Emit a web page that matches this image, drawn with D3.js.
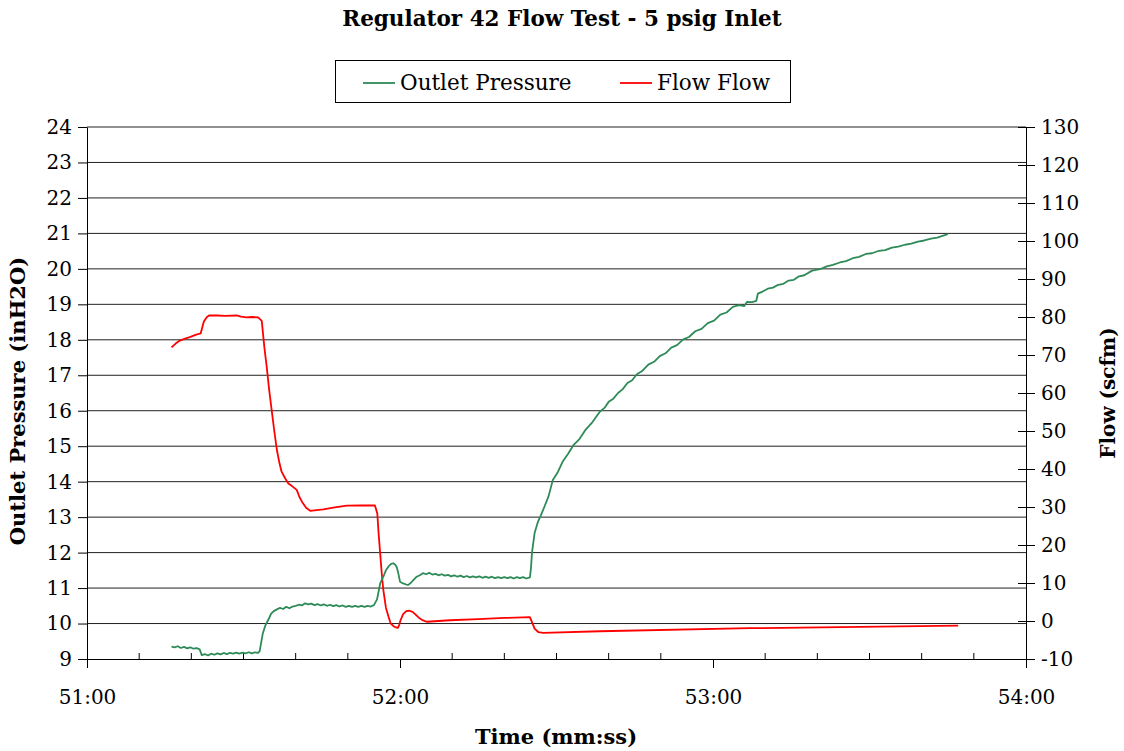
<!DOCTYPE html>
<html><head><meta charset="utf-8">
<script src="https://cdn.jsdelivr.net/npm/d3@7"></script>
<style>
html,body{margin:0;padding:0;background:#fff;}
svg{display:block;font-family:"DejaVu Serif",serif;}
</style></head>
<body><svg id="c" width="1124" height="751"></svg>
<script>
// ---- data (time in seconds after 51:00) ----
const xTickValues = [0, 60, 120, 180];
const xTickLabels = ["51:00", "52:00", "53:00", "54:00"];
const leftTicks = [9,10,11,12,13,14,15,16,17,18,19,20,21,22,23,24];
const rightTicks = [-10,0,10,20,30,40,50,60,70,80,90,100,110,120,130];

const pressureTime = [16.2,16.8,17.4,18.0,18.6,19.2,19.8,20.4,21.0,21.6,22.0,22.6,23.2,23.8,24.4,25.0,25.6,26.2,26.8,27.4,28.0,28.6,29.2,29.8,30.4,31.0,31.6,32.2,32.8,33.1,33.7,34.2,34.8,35.3,35.8,36.4,37.0,37.6,38.2,38.8,39.4,40.0,40.6,41.2,41.8,42.4,43.0,43.6,44.2,44.8,45.4,46.0,46.6,47.2,47.8,48.4,49.0,49.6,50.2,50.8,51.4,52.0,52.6,53.2,53.8,54.4,55.0,55.6,56.2,56.8,57.3,57.8,58.3,58.7,59.1,59.4,59.7,60.0,60.6,61.2,61.6,62.1,62.6,63.2,63.8,64.4,65.0,65.6,66.2,66.8,67.4,68.0,68.6,69.2,69.8,70.4,71.0,71.6,72.2,72.8,73.4,74.0,74.6,75.2,75.8,76.4,77.0,77.6,78.2,78.8,79.4,80.0,80.6,81.2,81.8,82.4,83.0,83.6,84.2,84.9,85.1,85.3,85.8,86.4,87.0,87.7,88.5,89.3,90.3,91.2,92.2,93.2,94.4,95.6,96.9,98.3,99.2,100.0,100.9,101.8,102.7,103.6,104.5,105.4,106.5,107.6,108.7,109.8,110.9,112.0,113.1,114.3,115.4,116.6,117.8,119.0,120.2,121.4,122.6,123.8,125.0,126.0,126.5,127.5,128.3,128.6,129.5,130.5,131.5,132.5,133.5,134.5,135.5,136.5,137.5,139.0,140.5,141.8,143.0,144.3,145.5,146.8,148.0,149.3,150.5,151.8,153.0,154.3,155.5,156.8,158.0,159.3,160.5,161.8,163.0,164.0,165.0,166.0,167.0];
const pressureValues = [9.35,9.33,9.36,9.31,9.34,9.30,9.33,9.29,9.31,9.27,9.11,9.14,9.10,9.15,9.12,9.16,9.13,9.17,9.14,9.17,9.15,9.18,9.15,9.18,9.16,9.19,9.16,9.19,9.17,9.22,9.72,9.95,10.12,10.28,10.35,10.40,10.44,10.41,10.47,10.43,10.48,10.50,10.53,10.51,10.57,10.54,10.56,10.52,10.55,10.51,10.54,10.50,10.53,10.49,10.52,10.48,10.51,10.47,10.50,10.47,10.50,10.47,10.50,10.47,10.50,10.48,10.52,10.68,11.13,11.32,11.50,11.61,11.68,11.70,11.66,11.58,11.40,11.18,11.13,11.10,11.09,11.15,11.23,11.32,11.36,11.42,11.39,11.43,11.38,11.40,11.36,11.39,11.35,11.37,11.33,11.36,11.32,11.35,11.31,11.34,11.30,11.33,11.30,11.33,11.29,11.32,11.29,11.32,11.28,11.31,11.28,11.31,11.28,11.31,11.27,11.31,11.28,11.31,11.27,11.30,11.55,12.00,12.55,12.85,13.05,13.30,13.60,14.05,14.28,14.57,14.78,15.02,15.20,15.47,15.68,15.97,16.08,16.25,16.34,16.50,16.61,16.78,16.86,17.03,17.13,17.30,17.38,17.54,17.62,17.78,17.85,18.01,18.08,18.24,18.31,18.47,18.54,18.71,18.77,18.93,18.98,18.95,19.07,19.06,19.10,19.30,19.36,19.44,19.47,19.55,19.58,19.67,19.69,19.79,19.82,19.95,19.99,20.07,20.11,20.18,20.22,20.30,20.34,20.42,20.44,20.51,20.53,20.60,20.63,20.68,20.71,20.77,20.80,20.85,20.88,20.93,20.98];

const flowTime = [16.2,17.0,17.8,18.8,19.7,20.8,21.8,22.4,23.0,23.4,25.0,26.5,28.7,29.5,30.6,31.5,32.8,33.5,34.0,34.45,34.9,35.4,35.9,36.4,36.9,37.3,38.0,38.6,39.3,40.2,40.7,41.2,42.0,42.8,44.0,45.3,47.5,49.8,52.5,55.2,55.65,55.9,56.2,56.5,56.8,57.3,57.8,58.2,58.7,59.2,59.6,59.85,60.1,60.6,61.2,61.8,62.4,62.9,63.5,64.2,65.1,69.6,75.0,80.0,84.9,85.3,85.8,86.5,87.5,98.3,127.1,167.0];
const flowValues = [72.0,73.0,73.8,74.3,74.7,75.3,75.7,78.8,80.0,80.4,80.4,80.3,80.4,80.1,79.9,80.0,79.9,79.0,72.0,66.9,61.0,55.5,50.0,45.0,41.5,39.3,37.5,36.2,35.5,34.5,32.7,31.4,29.8,29.0,29.2,29.4,29.9,30.35,30.4,30.4,28.3,23.0,17.8,12.5,8.2,3.5,1.1,-0.6,-1.3,-1.7,-1.8,-1.0,0.2,1.8,2.6,2.7,2.4,1.8,1.0,0.3,-0.2,0.2,0.5,0.8,1.0,-0.3,-2.0,-2.9,-3.1,-2.7,-1.9,-1.2];

const seriesNames = ["Outlet Pressure", "Flow Flow"];
const seriesColors = ["#2e8b57", "#ff0000"];

// ---- layout ----
const m = {left: 87, right: 1026, top: 127, bottom: 659};
const svg = d3.select("#c");

const x = d3.scaleLinear().domain([0, 180]).range([m.left, m.right]);
const yL = d3.scaleLinear().domain([9, 24]).range([m.bottom, m.top]);
const yR = d3.scaleLinear().domain([-10, 130]).range([m.bottom, m.top]);

// title
svg.append("text").attr("x", 562).attr("y", 26).attr("text-anchor", "middle")
  .attr("font-weight", "bold").attr("font-size", 21.5).text("Regulator 42 Flow Test - 5 psig Inlet");

// gridlines
svg.append("g").selectAll("line").data(leftTicks.filter(d => d > 9)).join("line")
  .attr("x1", m.left).attr("x2", m.right)
  .attr("y1", d => yL(d)).attr("y2", d => yL(d))
  .attr("stroke", "#222").attr("stroke-width", 1);

// left axis
const gL = svg.append("g").attr("transform", `translate(${m.left},0)`)
  .call(d3.axisLeft(yL).tickValues(leftTicks).tickSize(9).tickSizeOuter(0).tickPadding(6));
// right axis
const gR = svg.append("g").attr("transform", `translate(${m.right},0)`)
  .call(d3.axisRight(yR).tickValues(rightTicks).tickSize(9).tickSizeOuter(0).tickPadding(6)
    .tickFormat(d => String(d)));
gR.selectAll(".tick line").attr("x1", -8);
// bottom axis major ticks
const gB = svg.append("g").attr("transform", `translate(0,${m.bottom})`)
  .call(d3.axisBottom(x).tickValues(xTickValues).tickSize(9).tickSizeOuter(0).tickPadding(22)
    .tickFormat((d, i) => xTickLabels[i]));
// minor ticks (inward)
const minor = d3.range(0, 181, 10).filter(d => d % 60 !== 0);
svg.append("g").selectAll("line").data(minor).join("line")
  .attr("x1", d => x(d)).attr("x2", d => x(d))
  .attr("y1", m.bottom).attr("y2", m.bottom - 6).attr("stroke", "#000");

[gL, gR, gB].forEach(g => {
  g.selectAll("path.domain").attr("stroke", "#000");
  g.selectAll(".tick line").attr("stroke", "#000");
  g.selectAll("text").attr("font-family", "DejaVu Serif").attr("font-size", 20).attr("fill", "#000");
});

// lines
const lineP = d3.line().x((d, i) => x(pressureTime[i])).y(d => yL(d));
const lineF = d3.line().x((d, i) => x(flowTime[i])).y(d => yR(d));
svg.append("path").attr("d", lineF(flowValues)).attr("fill", "none")
  .attr("stroke", seriesColors[1]).attr("stroke-width", 1.8).attr("stroke-linejoin", "round");
svg.append("path").attr("d", lineP(pressureValues)).attr("fill", "none")
  .attr("stroke", seriesColors[0]).attr("stroke-width", 1.8).attr("stroke-linejoin", "round");

// axis titles
svg.append("text").attr("x", 556).attr("y", 744).attr("text-anchor", "middle")
  .attr("font-weight", "bold").attr("font-size", 21).text("Time (mm:ss)");
svg.append("text").attr("transform", "translate(25,401) rotate(-90)").attr("text-anchor", "middle")
  .attr("font-weight", "bold").attr("font-size", 21).text("Outlet Pressure (inH2O)");
svg.append("text").attr("transform", "translate(1115,393) rotate(-90)").attr("text-anchor", "middle")
  .attr("font-weight", "bold").attr("font-size", 20).text("Flow (scfm)");

// legend
const lg = svg.append("g");
lg.append("rect").attr("x", 335.5).attr("y", 60.5).attr("width", 455).attr("height", 42)
  .attr("fill", "#fff").attr("stroke", "#000").attr("stroke-width", 1);
const lx = [363, 620];
seriesNames.forEach((n, i) => {
  lg.append("line").attr("x1", lx[i]).attr("x2", lx[i] + 32).attr("y1", 83).attr("y2", 83)
    .attr("stroke", seriesColors[i]).attr("stroke-width", 1.8);
  lg.append("text").attr("x", lx[i] + 37).attr("y", 90).attr("font-size", 21.5).text(n);
});
</script></body></html>
